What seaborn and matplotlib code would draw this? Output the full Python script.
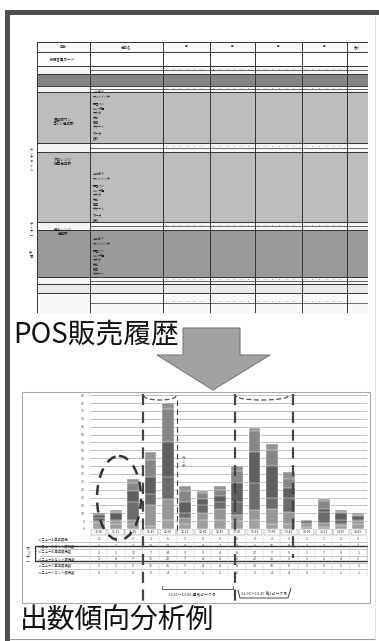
import numpy as np
import pandas as pd
import matplotlib
matplotlib.use("Agg")
import matplotlib.pyplot as plt
import matplotlib.patches as mpatches
import seaborn as sns

# --- data -----------------------------------------------------------------
times = ["11:00", "11:15", "11:30", "11:45", "12:00", "12:15", "12:30", "12:45",
         "13:00", "13:15", "13:30", "13:45", "14:00", "14:15", "14:30", "14:45"]
row_labels = ["メニューA 単品販売", "メニューA セット販売数", "メニューB 単品販売数",
              "メニューB セット販売数", "メニューC 単品販売数", "メニューC セット販売数"]
menu_a_single = [4, 3, 3, 2, 6, 3, 6, 6, 5, 6, 3, 3, 1, 1, 2, 3]
menu_a_set = [1, 2, 3, 13, 13, 4, 4, 7, 4, 6, 10, 8, 2, 3, 1, 2]
menu_b_single = [2, 1, 11, 7, 14, 3, 5, 4, 8, 17, 7, 9, 1, 7, 3, 1]
menu_b_set = [2, 4, 7, 11, 22, 7, 4, 4, 12, 20, 20, 6, 1, 2, 4, 2]
menu_c_single = [1, 1, 5, 11, 21, 7, 4, 4, 8, 13, 10, 6, 1, 5, 1, 1]
menu_c_set = [0, 1, 3, 5, 4, 3, 1, 2, 3, 2, 4, 4, 0, 1, 1, 1]
series = [menu_a_single, menu_a_set, menu_b_single, menu_b_set, menu_c_single, menu_c_set]
bar_colors = ["#a0a0a0", "#979797", "#6c6c6c", "#5f5f5f", "#878787", "#939393"]
y_ticks = list(range(0, 90, 5))

# POS sheet schematic: band heights and grey level (1 = white)
sheet_band_heights = [10, 14, 8, 12, 6, 51, 9, 70, 8, 47, 7, 9, 20]
sheet_band_shades = [0.97, 0.99, 0.96, 0.52, 0.96, 0.74, 0.96, 0.74, 0.96, 0.6, 0.96, 0.92, 0.97]
sheet_col_widths = [53, 73, 47, 45, 47, 45, 21]
sheet_categories = ["新規客層カード", "昼食時ワン\nコイン商品群", "夕食レンジ\n惣菜商品群", "弁当レンジ\n商品群"]
sheet_category_rows = [17, 80, 120, 190]
block_items = ["おにぎり", "サンドイッチ", "調理パン", "カップ麺", "サラダ", "弁当", "惣菜",
               "デザート", "スープ", "飲料"]

W, H = 379, 641
sns.set_theme(style="white")
plt.rcParams["font.family"] = ["Noto Sans CJK JP", "DejaVu Sans"]

fig = plt.figure(figsize=(W / 100, H / 100), dpi=100)


def px_axes(x0, y0, x1, y1, **kw):
    return fig.add_axes([x0 / W, 1 - y1 / H, (x1 - x0) / W, (y1 - y0) / H], **kw)


# background / frame layer
bg = fig.add_axes([0, 0, 1, 1], zorder=0)
bg.set_xlim(0, W)
bg.set_ylim(H, 0)
bg.axis("off")
bg.add_patch(mpatches.Rectangle((5, 10), W - 5, 5, color="#505050", lw=0))
bg.add_patch(mpatches.Rectangle((5, 10), 5, H - 10, color="#505050", lw=0))
bg.plot([10, 375], [639, 639], color="#9a9a9a", lw=0.8)
bg.plot([375, 375], [15, 639], color="#dddddd", lw=0.6)
bg.add_patch(mpatches.Rectangle((22, 392), 348, 211, fill=False, ec="#a8a8a8", lw=0.8))

# --- top: POS sales sheet ---------------------------------------------------
sheet = px_axes(37, 42, 368, 313, zorder=2)
shade_rows = np.repeat(sheet_band_shades, sheet_band_heights)
sheet_mat = np.tile(shade_rows[:, None], (1, sum(sheet_col_widths)))
sns.heatmap(sheet_mat, ax=sheet, cmap="gray", vmin=0, vmax=1, cbar=False,
            xticklabels=False, yticklabels=False, rasterized=True)
col_edges = np.cumsum([0] + sheet_col_widths)
row_edges = np.cumsum([0] + sheet_band_heights)
for x in col_edges:
    sheet.axvline(x, color="#333333", lw=0.7)
for y in row_edges:
    sheet.axhline(y, color="#333333", lw=0.7)
# subtotal double rules and tiny figures
for i, (h, s) in enumerate(zip(sheet_band_heights, sheet_band_shades)):
    top_y = row_edges[i]
    if s > 0.95 and i not in (0, 1, 11):
        sheet.axhline(top_y + h * 0.5, xmin=0.16, color="#333333", lw=0.5)
        for c in range(2, 6):
            for k in range(6):
                xx = col_edges[c] + 4 + k * 7
                sheet.text(xx, top_y + h * 0.4, "8", fontsize=1.6, color="#222222",
                           ha="center", va="center")
sheet.text(col_edges[0] + 26, 5, "区分", fontsize=2.5, ha="center", va="center")
sheet.text(col_edges[1] + 36, 5, "商品名", fontsize=2.5, ha="center", va="center")
for c in range(2, 6):
    sheet.text((col_edges[c] + col_edges[c + 1]) / 2, 3.5, "月", fontsize=2,
               ha="center", va="center")
sheet.text(col_edges[6] + 10, 5, "合計", fontsize=2.2, ha="center", va="center")
for label, r in zip(sheet_categories, sheet_category_rows):
    sheet.text(26, r, label, fontsize=2.6, ha="center", va="center",
               color="#111111", linespacing=1.2)
for start, n in [(51, 10), (133, 10), (198, 8)]:
    for k in range(n):
        sheet.text(col_edges[1] + 3, start + k * 5, block_items[k % len(block_items)],
                   fontsize=2.2, ha="left", va="center", color="#1a1a1a")
for lab, yy in [("ランチタイム", 118), ("ディナー", 188), ("夜間", 213)]:
    sheet.text(-6, yy, "\n".join(lab), fontsize=2.3,
               ha="center", va="center", linespacing=0.95, clip_on=False)

fig.text(13 / W, 1 - 334 / H, "POS販売履歴", fontsize=20, ha="left", va="center",
         color="#111111")

# big arrow
bg.add_patch(mpatches.Polygon([(183, 328), (240, 328), (240, 355), (270, 355),
                               (213, 390), (157, 355), (183, 355)],
                              closed=True, fc="#a2a2a2", ec="#7a7a7a", lw=0.8, zorder=3))

# --- bottom: stacked bar chart ----------------------------------------------
ax = px_axes(90, 392, 367, 529, zorder=2)
ax.patch.set_alpha(0)
totals = np.cumsum(np.array(series), axis=0)
for level in range(len(series) - 1, -1, -1):
    df = pd.DataFrame({"time": times, "count": totals[level]})
    sns.barplot(data=df, x="time", y="count", order=times, color=bar_colors[level],
                width=0.68, edgecolor="white", linewidth=0.3, saturation=1, ax=ax)
ax.set_xlim(-0.5, 15.5)
ax.set_ylim(0, 87)
ax.set_yticks(y_ticks)
ax.set_yticklabels([str(v) for v in y_ticks], fontsize=2.6, color="#555555")
ax.tick_params(axis="y", length=0, pad=4)
ax.set_xticks([])
ax.set_xlabel("")
ax.set_ylabel("")
ax.yaxis.grid(True, color="#b5b5b5", lw=0.6)
ax.set_axisbelow(True)
sns.despine(ax=ax, left=True, bottom=True)

# table under the bars, x aligned with bar positions
px_per_unit = (367 - 90) / 16
tab = px_axes(35, 529, 368, 576, zorder=2)
tab.set_xlim(-0.5 - (90 - 35) / px_per_unit, 15.5 + (368 - 367) / px_per_unit)
tab.set_ylim(7, 0)
tab.axis("off")
for i, t in enumerate(times):
    tab.text(i, 0.5, t, fontsize=2.4, ha="center", va="center", color="#333333")
    tab.add_patch(mpatches.Rectangle((i - 0.45, 0.05), 0.9, 0.9, fill=False,
                                     ec="#777777", lw=0.3))
left_x = tab.get_xlim()[0]
for r, (lab, vals) in enumerate(zip(row_labels, series), start=1):
    tab.text(left_x + 0.2, r + 0.5, lab, fontsize=2.4, ha="left", va="center",
             color="#333333")
    for i, v in enumerate(vals):
        tab.text(i, r + 0.5, str(v), fontsize=2.6, ha="center", va="center",
                 color="#333333")
    tab.plot([left_x + 0.3, 15.5], [r + 1, r + 1], color="#999999", lw=0.4)
for i in range(17):
    tab.plot([i - 0.5, i - 0.5], [1, 7], color="#bbbbbb", lw=0.3)
tab.add_patch(mpatches.Rectangle((left_x, 2.6), 15.5 - left_x + 0.05, 2.2, fill=False,
                                 ec="#333333", lw=1.0))

# annotation overlay
top = fig.add_axes([0, 0, 1, 1], zorder=5)
top.set_xlim(0, W)
top.set_ylim(H, 0)
top.axis("off")
top.patch.set_alpha(0)
top.add_patch(mpatches.Ellipse((119, 498), 44, 84, fill=False, ec="#333333", lw=1.8,
                               ls=(0, (4, 3))))
for x, y0, y1, lw in [(143, 394, 602, 1.6), (177, 400, 530, 0.8),
                      (235, 394, 602, 1.6), (293, 394, 558, 1.6)]:
    top.plot([x, x], [y0, y1], color="#444444", lw=lw, ls=(0, (5, 3)))
top.add_patch(mpatches.Arc((160, 396), 32, 8, theta1=0, theta2=180, ec="#555555",
                           lw=0.9, ls=(0, (4, 2))))
top.add_patch(mpatches.Arc((262, 396), 52, 8, theta1=0, theta2=180, ec="#555555",
                           lw=0.9, ls=(0, (4, 2))))
top.plot([162, 162, 233, 233], [586, 589, 589, 586], color="#444444", lw=0.6)
top.text(192, 595, "11:45〜13:00 通常ピーク帯", fontsize=2.8, ha="center", va="center",
         color="#333333")
top.plot([238, 240, 288, 291], [590, 598, 598, 588], color="#444444", lw=0.7)
top.text(264, 594, "13:00〜13:45 第2ピーク帯", fontsize=2.8, ha="center", va="center",
         color="#333333")
top.text(28, 555, "\n".join("ホリデー"), fontsize=3, ha="center", va="center",
         linespacing=0.95, color="#333333")
top.text(183, 462, "\n".join("ランチ"), fontsize=2.6, ha="center", va="center",
         linespacing=0.95, color="#444444")

fig.text(20 / W, 1 - 621 / H, "出数傾向分析例", fontsize=20, ha="left", va="center",
         color="#111111")

fig.savefig("out.png", dpi=100)
